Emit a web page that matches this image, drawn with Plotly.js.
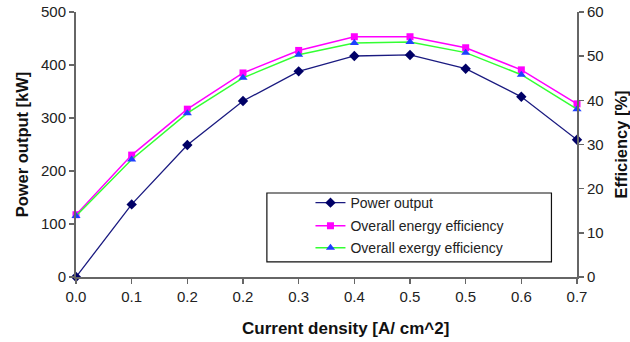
<!DOCTYPE html>
<html>
<head>
<meta charset="utf-8">
<script src="https://cdn.plot.ly/plotly-3.0.1.min.js"></script>
<style>html,body{margin:0;padding:0;background:#fff;}#chart{width:630px;height:342px;}</style>
</head>
<body>
<div id="chart"></div>
<script>
const currentDensity = [0, 0.075, 0.15, 0.225, 0.3, 0.375, 0.45, 0.525, 0.6, 0.675];
const tickLabels = ["0.0", "0.1", "0.2", "0.2", "0.3", "0.4", "0.5", "0.5", "0.6", "0.7"];
const powerOutput = [0, 137, 249, 332, 388, 417, 419, 393, 340, 259];
const energyEfficiency = [14.1, 27.6, 38.0, 46.2, 51.3, 54.4, 54.4, 51.9, 46.9, 39.2];
const exergyEfficiency = [13.8, 26.6, 37.1, 45.1, 50.3, 53.0, 53.2, 50.8, 45.8, 38.0];

const FONT = "Liberation Sans, Arial, sans-serif";

const traces = [
  {x: currentDensity, y: powerOutput, name: "Power output", type: "scatter", mode: "lines+markers", legend: "legend",
   line: {color: "#1a1a80", width: 1.3}, marker: {symbol: "diamond", size: 8, color: "#000066"}, cliponaxis: false},
  {x: currentDensity, y: energyEfficiency, name: "Overall energy efficiency", yaxis: "y2", type: "scatter", mode: "lines+markers", legend: "legend2",
   line: {color: "#ff00ff", width: 1.5}, marker: {symbol: "square", size: 7, color: "#ff00ff"}, cliponaxis: false},
  {x: currentDensity, y: exergyEfficiency, name: "Overall exergy efficiency", yaxis: "y2", type: "scatter", mode: "lines+markers", legend: "legend3",
   line: {color: "#33ff33", width: 1.5}, marker: {symbol: "triangle-up", size: 8, color: "#1f3fff"}, cliponaxis: false}
];

const axisCommon = {showgrid: false, zeroline: false, showline: true, linecolor: "#666", linewidth: 2,
  ticks: "outside", ticklen: 5, tickwidth: 1.5, tickcolor: "#666",
  tickfont: {family: FONT, size: 15, color: "#222"}};

function leg(yc) {
  return {x: 0.468, y: yc, xanchor: "left", yanchor: "middle", bgcolor: "rgba(0,0,0,0)", borderwidth: 0,
    font: {family: FONT, size: 14, color: "#222"}};
}

const layout = {
  width: 630, height: 342,
  margin: {l: 76, r: 53, t: 12, b: 65},
  paper_bgcolor: "#fff", plot_bgcolor: "#fff",
  showlegend: true,
  xaxis: Object.assign({}, axisCommon, {range: [0, 0.675], tickvals: currentDensity, ticktext: tickLabels}),
  yaxis: Object.assign({}, axisCommon, {range: [0, 500], dtick: 100,
    title: {text: "Power output [kW]", font: {family: FONT, size: 16.5, color: "#111", weight: "bold"}, standoff: 8}}),
  yaxis2: Object.assign({}, axisCommon, {overlaying: "y", side: "right", range: [0, 60], dtick: 10, anchor: "x",
    title: {text: "Efficiency [%]", font: {family: FONT, size: 16.5, color: "#111", weight: "bold"}, standoff: 14}}),
  legend: leg(0.279),
  legend2: leg(0.192),
  legend3: leg(0.109),
  annotations: [{text: "Current density [A/ cm^2]", xref: "paper", yref: "paper", x: 0.537, y: -0.195,
    xanchor: "center", yanchor: "middle", showarrow: false,
    font: {family: FONT, size: 17, color: "#111", weight: "bold"}}],
  shapes: [{type: "rect", xref: "paper", yref: "paper", x0: 0.381, x1: 0.949, y0: 0.057, y1: 0.317,
    line: {color: "#111", width: 1.2}, fillcolor: "rgba(255,255,255,1)", layer: "below"}]
};

Plotly.newPlot("chart", traces, layout, {displayModeBar: false, staticPlot: true});
</script>
</body>
</html>
